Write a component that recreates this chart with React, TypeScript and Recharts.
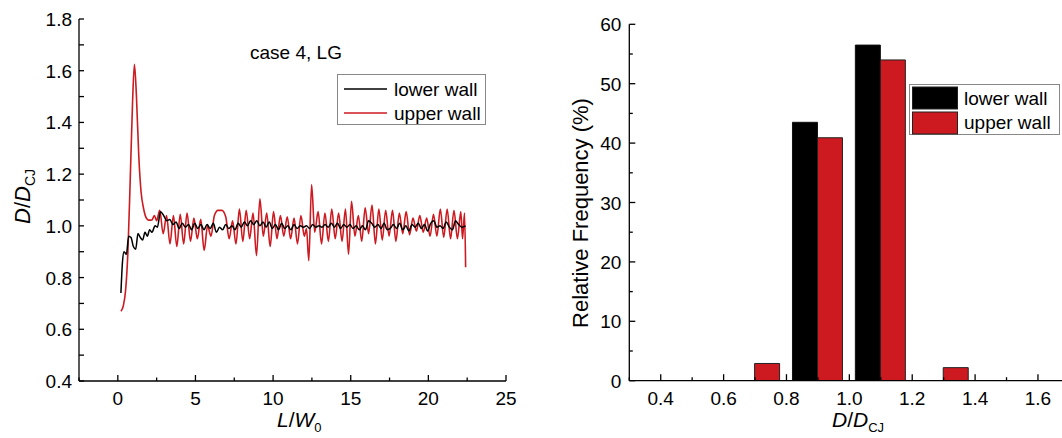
import React from 'react';
import { LineChart, Line, XAxis, YAxis, BarChart, Bar, Legend } from 'recharts';

const FONT = '"Liberation Sans", Arial, Helvetica, sans-serif';
const RED = '#cc1a20';

// ---- Left panel: D/D_CJ vs L/W0 ----
const lowerWall: [number, number][] = [
  [0.2, 0.74], [0.3, 0.86], [0.4, 0.9], [0.55, 0.89], [0.7, 0.96], [0.85, 0.955], [1.0, 0.92], [1.15, 0.91],
  [1.3, 0.97], [1.45, 0.955], [1.6, 0.945], [1.75, 0.975], [1.9, 0.96], [2.05, 0.985], [2.2, 0.975], [2.4, 1.0],
  [2.55, 0.995], [2.75, 1.055], [2.95, 1.04], [3.15, 1.02], [3.35, 1.025], [3.55, 1.005], [3.75, 1.015], [3.95, 0.99],
  [4.15, 1.01], [4.35, 0.995], [4.55, 1.005], [4.75, 0.985], [4.95, 1.01], [5.15, 0.99], [5.35, 1.005], [5.55, 0.985],
  [5.75, 1.005], [5.95, 0.99], [6.15, 1.01], [6.35, 0.975], [6.55, 0.995], [6.75, 0.985], [6.95, 1.005], [7.15, 0.99],
  [7.35, 1.0], [7.55, 0.985], [7.75, 1.01], [7.95, 0.995], [8.15, 1.015], [8.35, 1.0], [8.55, 1.02], [8.75, 1.005],
  [8.95, 1.02], [9.15, 1.0], [9.35, 1.015], [9.55, 0.995], [9.75, 1.015], [9.95, 0.99], [10.15, 1.005], [10.35, 0.985],
  [10.55, 1.01], [10.75, 0.99], [10.95, 1.0], [11.15, 0.985], [11.35, 1.005], [11.55, 0.99], [11.75, 1.0], [11.95, 0.995],
  [12.15, 1.0], [12.35, 0.99], [12.55, 1.005], [12.75, 0.995], [12.95, 1.0], [13.15, 0.995], [13.35, 1.005], [13.55, 0.995],
  [13.75, 1.01], [13.95, 0.995], [14.15, 1.01], [14.35, 0.99], [14.55, 1.005], [14.75, 0.995], [14.95, 1.005], [15.15, 0.99],
  [15.35, 1.0], [15.55, 0.985], [15.75, 1.0], [15.95, 0.985], [16.15, 1.02], [16.35, 1.01], [16.55, 0.995], [16.75, 1.005],
  [16.95, 0.99], [17.15, 1.01], [17.35, 0.985], [17.55, 0.99], [17.75, 1.005], [17.95, 0.99], [18.15, 1.01], [18.35, 0.985],
  [18.55, 1.0], [18.75, 0.98], [18.95, 1.005], [19.15, 0.995], [19.35, 1.01], [19.55, 0.99], [19.75, 1.005], [19.95, 0.98],
  [20.15, 1.01], [20.35, 1.02], [20.55, 0.995], [20.75, 1.0], [20.95, 0.99], [21.15, 1.015], [21.35, 0.995], [21.55, 0.985],
  [21.75, 1.02], [21.95, 1.005], [22.15, 0.995], [22.4, 1.0],
];

const upperWall: [number, number][] = [
  [0.2, 0.67], [0.35, 0.69], [0.5, 0.75], [0.65, 0.9], [0.8, 1.18], [0.95, 1.48], [1.07, 1.625], [1.2, 1.5],
  [1.35, 1.27], [1.5, 1.13], [1.65, 1.07], [1.8, 1.035], [2.0, 1.022], [2.2, 1.023], [2.35, 1.04], [2.5, 1.02],
  [2.7, 1.06], [2.92, 0.97], [3.14, 1.04], [3.36, 0.93], [3.58, 1.04], [3.8, 0.92], [4.02, 1.045], [4.24, 0.93],
  [4.46, 1.05], [4.68, 0.94], [4.9, 1.03], [5.12, 0.95], [5.34, 1.025], [5.56, 0.905], [5.78, 1.0], [6.0, 0.96],
  [6.22, 1.04], [6.45, 1.06], [6.7, 1.06], [6.95, 1.035], [7.17, 0.95], [7.39, 1.02], [7.61, 0.93], [7.83, 1.065],
  [8.05, 0.94], [8.27, 1.06], [8.49, 0.95], [8.71, 1.05], [8.93, 0.885], [9.15, 1.105], [9.37, 0.96], [9.59, 1.05],
  [9.81, 0.92], [10.03, 1.055], [10.25, 0.95], [10.47, 1.04], [10.69, 0.96], [10.91, 1.035], [11.13, 0.95], [11.35, 1.03],
  [11.57, 0.93], [11.79, 1.04], [12.01, 0.96], [12.15, 0.99], [12.3, 0.865], [12.48, 1.16], [12.68, 0.975], [12.9, 1.055],
  [13.12, 0.93], [13.34, 1.05], [13.56, 0.94], [13.78, 1.065], [14.0, 0.95], [14.22, 1.05], [14.44, 0.94], [14.66, 1.065],
  [14.86, 0.89], [15.05, 1.095], [15.27, 0.96], [15.49, 1.04], [15.71, 0.94], [15.93, 1.07], [16.15, 0.97], [16.37, 1.08],
  [16.59, 0.93], [16.81, 1.065], [17.03, 0.945], [17.25, 1.06], [17.47, 0.96], [17.69, 1.06], [17.91, 0.94], [18.13, 1.05],
  [18.35, 0.97], [18.57, 1.055], [18.79, 0.965], [19.01, 1.03], [19.23, 0.98], [19.45, 1.04], [19.67, 0.975], [19.89, 1.03],
  [20.11, 0.96], [20.33, 1.045], [20.55, 0.96], [20.77, 1.065], [20.99, 0.955], [21.21, 1.065], [21.43, 0.95], [21.65, 1.06],
  [21.87, 0.95], [22.09, 1.055], [22.2, 0.95], [22.33, 1.05], [22.4, 0.84],
];

const lengthTicks = [-2.5, 0, 2.5, 5, 7.5, 10, 12.5, 15, 17.5, 20, 22.5, 25];
const lengthTopTicks = [-2.5, 0.25, 3, 5.75, 8.5, 11.25, 14, 16.75, 19.5, 22.25, 25];
const speedTicks = [0.4, 0.5, 0.6, 0.7, 0.8, 0.9, 1.0, 1.1, 1.2, 1.3, 1.4, 1.5, 1.6, 1.7, 1.8];
const speedRightTicks = [0.4, 0.54, 0.68, 0.82, 0.96, 1.1, 1.24, 1.38, 1.52, 1.66, 1.8];

// ---- Right panel: histogram ----
const binCenters = [0.7, 0.9, 1.1, 1.3];
const lowerFreq = [null, 43.5, 56.5, null];
const upperFreq = [2.9, 40.9, 54.0, 2.2];
const freqTicks = [0, 5, 10, 15, 20, 25, 30, 35, 40, 45, 50, 55, 60];
const ratioTicks = [0.3, 0.4, 0.5, 0.6, 0.7, 0.8, 0.9, 1.0, 1.1, 1.2, 1.3, 1.4, 1.5, 1.6, 1.7];
const ratioTopTicks = [0.3, 0.44, 0.58, 0.72, 0.86, 1.0, 1.14, 1.28, 1.42, 1.56, 1.7];

const lowerData = lowerWall.map(([x, y]) => ({ x, y }));
const upperData = upperWall.map(([x, y]) => ({ x, y }));
const histData = binCenters.map((b, i) => ({ bin: b, lower: lowerFreq[i], upper: upperFreq[i] }));

type Orient = 'bottom' | 'left' | 'top' | 'right';
const AX = '#000';
const TICK_FS = 19;

const makeTick =
  (orient: Orient, isMajor: (v: number) => boolean, label: (v: number) => string, gap: number, majorLen = 6, minorLen = 3.5) =>
  (props: any) => {
    const { x, y, payload } = props;
    const v = payload.value as number;
    const maj = isMajor(v);
    const len = maj ? majorLen : minorLen;
    const txt = maj ? label(v) : '';
    const common = { fontSize: TICK_FS, fontFamily: FONT, fill: '#000' };
    if (orient === 'bottom') {
      return (
        <g>
          <line x1={x} y1={y} x2={x} y2={y - len} stroke={AX} strokeWidth={1.3} />
          {txt ? <text x={x} y={y + gap} textAnchor="middle" {...common}>{txt}</text> : null}
        </g>
      );
    }
    if (orient === 'top') {
      return <line x1={x} y1={y} x2={x} y2={y + len} stroke={AX} strokeWidth={1.3} />;
    }
    if (orient === 'left') {
      return (
        <g>
          <line x1={x} y1={y} x2={x + len} y2={y} stroke={AX} strokeWidth={1.3} />
          {txt ? <text x={x - gap} y={y + 7} textAnchor="end" {...common}>{txt}</text> : null}
        </g>
      );
    }
    return <line x1={x} y1={y} x2={x - len} y2={y} stroke={AX} strokeWidth={1.3} />;
  };

const even10 = (v: number) => Math.round(v * 10) % 2 === 0;
const fix1 = (v: number) => v.toFixed(1);
const mult5 = (v: number) => Math.abs(v % 5) < 1e-9;
const mult10 = (v: number) => Math.abs(v % 10) < 1e-9;
const always = () => true;
const none = () => '';

const axisLine = { stroke: AX, strokeWidth: 1.3 };

const LeftLegend = () => (
  <svg width={150} height={52} style={{ display: 'block' }}>
    <rect x={0.5} y={0.5} width={148} height={50} fill="#fff" stroke="#888" strokeWidth={1} />
    <line x1={7} y1={15} x2={50} y2={15} stroke="#000" strokeWidth={1.5} />
    <line x1={7} y1={39} x2={50} y2={39} stroke={RED} strokeWidth={1.5} />
    <text x={57} y={21.5} fontSize={19} fontFamily={FONT} fill="#000">lower wall</text>
    <text x={57} y={45.5} fontSize={19} fontFamily={FONT} fill="#000">upper wall</text>
  </svg>
);

const RightLegend = () => (
  <svg width={152} height={52} style={{ display: 'block' }}>
    <rect x={0.5} y={0.5} width={150} height={50} fill="#fff" stroke="#888" strokeWidth={1} />
    <rect x={3.5} y={3} width={45} height={22} fill="#000" stroke="#222" strokeWidth={1} />
    <rect x={3.5} y={28} width={45} height={22} fill={RED} stroke="#222" strokeWidth={1} />
    <text x={55} y={20.5} fontSize={19} fontFamily={FONT} fill="#000">lower wall</text>
    <text x={55} y={44.5} fontSize={19} fontFamily={FONT} fill="#000">upper wall</text>
  </svg>
);

export default function App() {
  return (
    <div style={{ position: 'absolute', left: 0, top: 0, width: 1062, height: 438, overflow: 'hidden', background: '#fff' }}>
      <div style={{ position: 'absolute', left: 0, top: 0 }}>
        <LineChart width={540} height={438} margin={{ top: 19, right: 34, bottom: 0, left: 0 }}>
          <XAxis
            xAxisId="b" dataKey="x" type="number" domain={[-2.5, 25]} ticks={lengthTicks} interval={0}
            height={57} tickSize={0} tickMargin={0} tickLine={false} axisLine={axisLine} allowDataOverflow
            tick={makeTick('bottom', mult5, (v) => (v >= 0 ? String(v) : ''), 24)}
          />
          <XAxis
            xAxisId="t" orientation="top" type="number" domain={[-2.5, 25]} ticks={lengthTopTicks} interval={0}
            height={0} tickSize={0} tickMargin={0} tickLine={false} axisLine={axisLine} allowDataOverflow
            tick={makeTick('top', always, none, 0, 5, 5)}
          />
          <YAxis
            yAxisId="l" type="number" domain={[0.4, 1.8]} ticks={speedTicks} interval={0}
            width={79} tickSize={0} tickMargin={0} tickLine={false} axisLine={axisLine} allowDataOverflow
            tick={makeTick('left', even10, fix1, 7, 5, 5)}
          />
          <YAxis
            yAxisId="r" orientation="right" type="number" domain={[0.4, 1.8]} ticks={speedRightTicks} interval={0}
            width={0} tickSize={0} tickMargin={0} tickLine={false} axisLine={axisLine} allowDataOverflow
            tick={makeTick('right', always, none, 0, 5, 5)}
          />
          <Line
            xAxisId="b" yAxisId="l" data={upperData} dataKey="y" type="monotone" stroke={RED}
            strokeWidth={1.6} dot={false} isAnimationActive={false} name="upper wall"
          />
          <Line
            xAxisId="b" yAxisId="l" data={lowerData} dataKey="y" type="monotone" stroke="#000"
            strokeWidth={1.5} dot={false} isAnimationActive={false} name="lower wall"
          />
          <Legend
            layout="vertical" align="center" verticalAlign="middle"
            wrapperStyle={{ position: 'absolute', left: 337, top: 74, width: 150, height: 52 }}
            content={() => <LeftLegend />}
          />
        </LineChart>
      </div>

      <div style={{ position: 'absolute', left: 540, top: 0 }}>
        <BarChart width={540} height={438} data={histData} margin={{ top: 24.3, right: 10.6, bottom: 0, left: 0 }} barGap={0}>
          <XAxis
            dataKey="bin" type="number" domain={[0.3, 1.7]} ticks={ratioTicks} interval={0}
            height={57.3} tickSize={0} tickMargin={0} tickLine={false} axisLine={axisLine} allowDataOverflow
            tick={makeTick('bottom', even10, fix1, 24.3, 6.5, 3.5)}
          />
          <XAxis
            xAxisId="t" orientation="top" type="number" domain={[0.3, 1.7]} ticks={ratioTopTicks} interval={0}
            height={0} tickSize={0} tickMargin={0} tickLine={false} axisLine={axisLine} allowDataOverflow
            tick={makeTick('top', always, none, 0, 5, 5)}
          />
          <YAxis
            type="number" domain={[0, 60]} ticks={freqTicks} interval={0}
            width={89.3} tickSize={0} tickMargin={0} tickLine={false} axisLine={axisLine} allowDataOverflow
            tick={makeTick('left', mult10, (v) => String(v), 8, 6, 3.5)}
          />
          <Bar dataKey="lower" fill="#000" stroke="#111" strokeWidth={1} barSize={25} isAnimationActive={false} name="lower wall" />
          <Bar dataKey="upper" fill={RED} stroke="#222" strokeWidth={1} barSize={25} isAnimationActive={false} name="upper wall" />
          <Legend
            layout="vertical" align="center" verticalAlign="middle"
            wrapperStyle={{ position: 'absolute', left: 369.3, top: 84, width: 152, height: 52 }}
            content={() => <RightLegend />}
          />
        </BarChart>
      </div>

      <svg width={1062} height={438} style={{ position: 'absolute', left: 0, top: 0, pointerEvents: 'none' }}>
        <text x={296} y={58.5} textAnchor="middle" fontSize={19} fontFamily={FONT} fill="#000">case 4, LG</text>
        <text transform="translate(30,224) rotate(-90)" fontSize={22} fontFamily={FONT} fill="#000">
          <tspan fontStyle="italic">D</tspan><tspan>/</tspan><tspan fontStyle="italic">D</tspan>
          <tspan fontSize={14} dy={5}>CJ</tspan>
        </text>
        <text x={277} y={427} fontSize={21} fontFamily={FONT} fill="#000">
          <tspan fontStyle="italic">L</tspan><tspan>/</tspan><tspan fontStyle="italic">W</tspan>
          <tspan fontSize={13} dy={5}>0</tspan>
        </text>
        <text transform="translate(588,213) rotate(-90)" textAnchor="middle" fontSize={22} fontFamily={FONT} fill="#000">
          Relative Frequency (%)
        </text>
        <text x={832} y={427} fontSize={21} fontFamily={FONT} fill="#000">
          <tspan fontStyle="italic">D</tspan><tspan>/</tspan><tspan fontStyle="italic">D</tspan>
          <tspan fontSize={13} dy={5}>CJ</tspan>
        </text>
      </svg>
    </div>
  );
}
